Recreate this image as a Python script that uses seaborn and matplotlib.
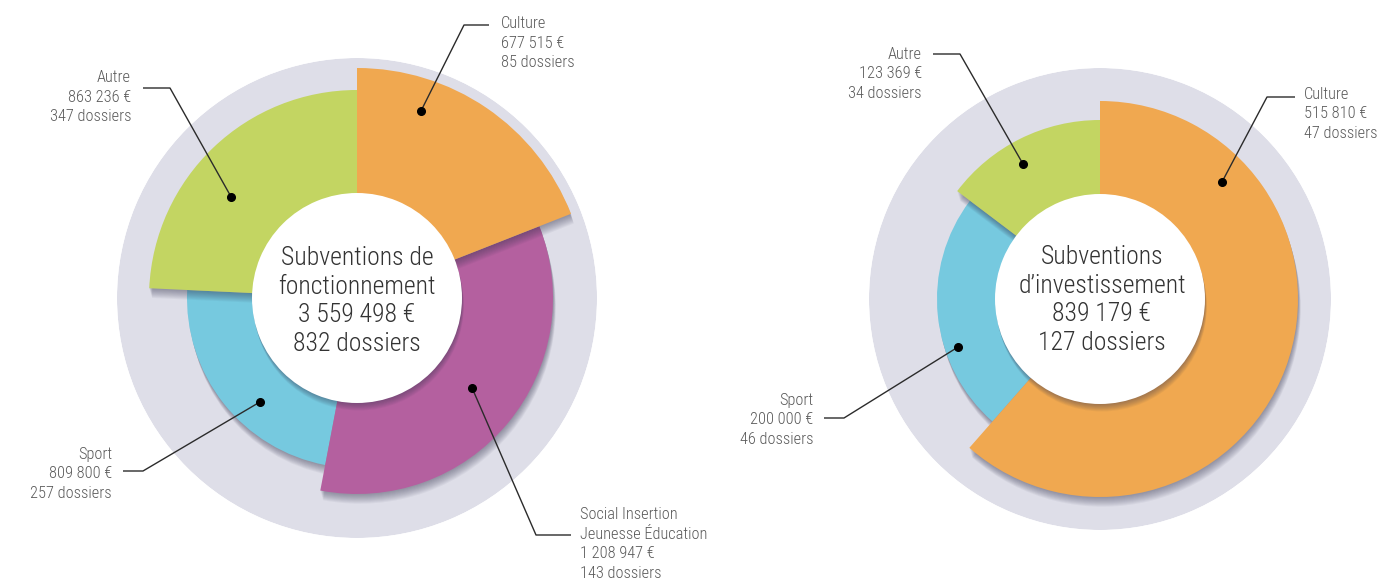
import numpy as np
import matplotlib
matplotlib.use("Agg")
import matplotlib.pyplot as plt
import seaborn as sns
from matplotlib import patheffects as pe
from matplotlib import font_manager as fm

# ---------------- data ----------------
fonct_categories = ["Culture", "Social Insertion\nJeunesse Éducation", "Sport", "Autre"]
fonct_amounts = [677515, 1208947, 809800, 863236]
fonct_dossiers = [85, 143, 257, 347]
fonct_radius = [230, 196, 170, 208]          # visual outer radius of each sector (px)

invest_categories = ["Culture", "Sport", "Autre"]
invest_amounts = [515810, 200000, 123369]
invest_dossiers = [47, 46, 34]
invest_radius = [198, 163, 179]

fonct_title = "Subventions de\nfonctionnement"
invest_title = "Subventions\nd\u2019investissement"

# ---------------- style ----------------
sns.set_theme(style="white")
names = {f.name for f in fm.fontManager.ttflist}
narrow = next((n for n in ["Roboto Condensed", "Liberation Sans Narrow", "Liberation Sans", "Roboto"]
               if n in names), "DejaVu Sans")
plt.rcParams["font.family"] = [narrow, "DejaVu Sans"]

COL = {"Culture": "#F0A850", "Social": "#B4609F", "Sport": "#76C9DF", "Autre": "#C3D562"}
GRAY = "#DEDEE8"
LABEL_C = "#5a5a5a"
CENTER_C = "#333333"

W, H = 1380, 582
fig = plt.figure(figsize=(W / 100, H / 100), dpi=100)


def fmt(v):
    return f"{v:,}".replace(",", " ")


def shadow(n=10, dx=0.2, dy=-0.7, a=0.05):
    eff = [pe.SimplePatchShadow(offset=(dx * k, dy * k), shadow_rgbFace=(0.2, 0.2, 0.3), alpha=a)
           for k in range(1, n + 1)]
    return eff + [pe.Normal()]


def draw_chart(cx, cy, R, amounts, radii, colors, zorders, inner):
    ax = fig.add_axes([(cx - R) / W, (H - cy - R) / H, 2 * R / W, 2 * R / H], projection="polar")
    ax.set_theta_zero_location("N")
    ax.set_theta_direction(-1)
    ax.set_ylim(0, R)
    ax.axis("off")
    ax.bar(0, R, width=2 * np.pi, bottom=0, color=GRAY, zorder=0, linewidth=0)
    ang = 2 * np.pi * np.asarray(amounts) / np.sum(amounts)
    starts = np.concatenate([[0], np.cumsum(ang)[:-1]])
    for s, a, r, c, z in zip(starts, ang, radii, colors, zorders):
        b = ax.bar(s, r, width=a, bottom=0, align="edge", color=c, linewidth=0, zorder=z)
        for p in b:
            p.set_path_effects(shadow())
    wb = ax.bar(0, inner, width=2 * np.pi, bottom=0, color="white", linewidth=0, zorder=10)
    for p in wb:
        p.set_path_effects(shadow(n=9, dx=0.15, dy=-0.6, a=0.05))
    return ax


# left chart
LC = (357, 298)
draw_chart(LC[0], LC[1], 240, fonct_amounts, fonct_radius,
           [COL["Culture"], COL["Social"], COL["Sport"], COL["Autre"]], [4, 3, 1, 2], 105)
# right chart
RC = (1100, 299)
draw_chart(RC[0], RC[1], 231, invest_amounts, invest_radius,
           [COL["Culture"], COL["Sport"], COL["Autre"]], [4, 1, 2], 105)

# ---------------- overlay: labels & leaders ----------------
ov = fig.add_axes([0, 0, 1, 1], zorder=20)
ov.set_xlim(0, W)
ov.set_ylim(H, 0)
ov.axis("off")
ov.patch.set_alpha(0)

# (dot angle deg, dot radius, elbow xy, end xy, text xy, ha)
left_layout = [
    (18.9, 198, (464, 25), (489, 25), (501, 43), "left"),
    (128.0, 146, (536, 535), (571, 535), (580, 544), "left"),
    (223.0, 142, (143, 471), (123, 471), (112, 474), "right"),
    (308.7, 161, (170, 88), (143, 88), (131, 97), "right"),
]
right_layout = [
    (46.2, 169, (1267, 97), (1295, 97), (1304, 114), "left"),
    (251.3, 150, (844, 418), (824, 418), (813, 420), "right"),
    (330.3, 155, (960, 54), (933, 54), (922, 74), "right"),
]


def annotate(center, cats, amounts, dossiers, layout):
    for cat, amt, dos, (th, r, elbow, end, txt, ha) in zip(cats, amounts, dossiers, layout):
        t = np.deg2rad(th)
        dxy = (center[0] + r * np.sin(t), center[1] - r * np.cos(t))
        ov.plot([dxy[0], elbow[0], end[0]], [dxy[1], elbow[1], end[1]], color="#2b2b2b", lw=1.0,
                solid_capstyle="butt")
        ov.plot(*dxy, "o", color="black", ms=5.5)
        ov.text(txt[0], txt[1], f"{cat}\n{fmt(amt)} €\n{dos} dossiers", ha=ha, va="center",
                fontsize=11.8, color=LABEL_C, linespacing=1.38, fontweight="light")


annotate(LC, fonct_categories, fonct_amounts, fonct_dossiers, left_layout)
annotate(RC, invest_categories, invest_amounts, invest_dossiers, right_layout)

ov.text(LC[0], 301, f"{fonct_title}\n{fmt(sum(fonct_amounts))} €\n{sum(fonct_dossiers)} dossiers",
        ha="center", va="center", fontsize=18.5, color=CENTER_C, linespacing=1.25, fontweight="light")
ov.text(RC[0] + 2, 300, f"{invest_title}\n{fmt(sum(invest_amounts))} €\n{sum(invest_dossiers)} dossiers",
        ha="center", va="center", fontsize=18.5, color=CENTER_C, linespacing=1.25, fontweight="light")

fig.savefig("out.png", dpi=100, facecolor="white")
